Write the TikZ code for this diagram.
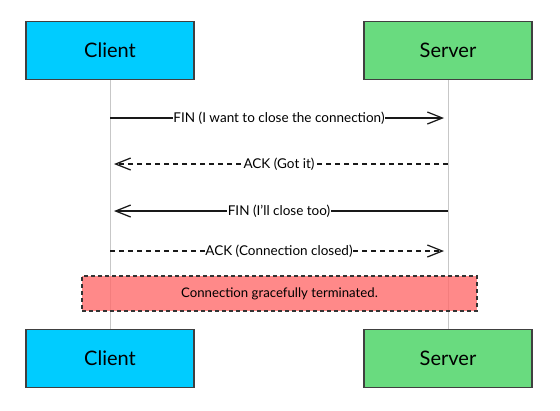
\documentclass[tikz,border=0pt]{standalone}
\usepackage{fontspec}
\setmainfont{Lato}
\usepackage{tikz}
\usetikzlibrary{arrows.meta, calc}

\definecolor{clientblue}{HTML}{00CCFF}
\definecolor{servergreen}{HTML}{69DB7F}
\definecolor{notered}{HTML}{FF6B6B}

\tikzset{
    actor/.style={draw=black!75, line width=1.2pt, minimum width=168pt, minimum height=58pt, font=\fontsize{20}{22}\selectfont},
    lifeline/.style={draw=black!22, line width=0.9pt},
    msg/.style={draw=black!90, line width=1.25pt, shorten >=4pt, -{Straight Barb[length=15pt, width=12pt, line width=1.25pt]}},
    reply/.style={msg, dash pattern=on 5pt off 4pt},
    msglabel/.style={fill=white, inner sep=0.5pt, font=\fontsize{13.5}{15}\selectfont, text=black},
    notebox/.style={draw=black!80, line width=1.1pt, dash pattern=on 4pt off 3pt, fill=notered, fill opacity=0.8, text opacity=1, minimum width=395pt, minimum height=35pt, font=\fontsize{13.2}{15}\selectfont}
}

\begin{document}
\begin{tikzpicture}[x=1pt, y=-1pt]
            \useasboundingbox (0,0) rectangle (560,410);

            \def\clientx{110}
            \def\serverx{448}

            % actors
            \node[actor, fill=clientblue] (clienttop) at (\clientx,50.5) {Client};
            \node[actor, fill=servergreen] (servertop) at (\serverx,50.5) {Server};
            \node[actor, fill=clientblue] (clientbot) at (\clientx,358.5) {Client};
            \node[actor, fill=servergreen] (serverbot) at (\serverx,358.5) {Server};

            % lifelines
            \draw[lifeline] (clienttop.south) -- (clientbot.north);
            \draw[lifeline] (servertop.south) -- (serverbot.north);

            % message anchors on the lifelines
            \foreach \name/\y in {m1/118,m2/164,m3/211,m4/251}
            {
                \coordinate (c\name) at (\clientx,\y);
                \coordinate (s\name) at (\serverx,\y);
            }

            % messages
            \draw[msg] (cm1) -- node[msglabel] {FIN (I want to close the connection)} (sm1);
            \draw[reply] (sm2) -- node[msglabel] {ACK (Got it)} (cm2);
            \draw[msg] (sm3) -- node[msglabel] {FIN (I’ll close too)} (cm3);
            \draw[reply] (cm4) -- node[msglabel] {ACK (Connection closed)} (sm4);

            % note
            \node[notebox] (note) at (279.5,293.5) {Connection gracefully terminated.};
        \end{tikzpicture}
\end{document}
